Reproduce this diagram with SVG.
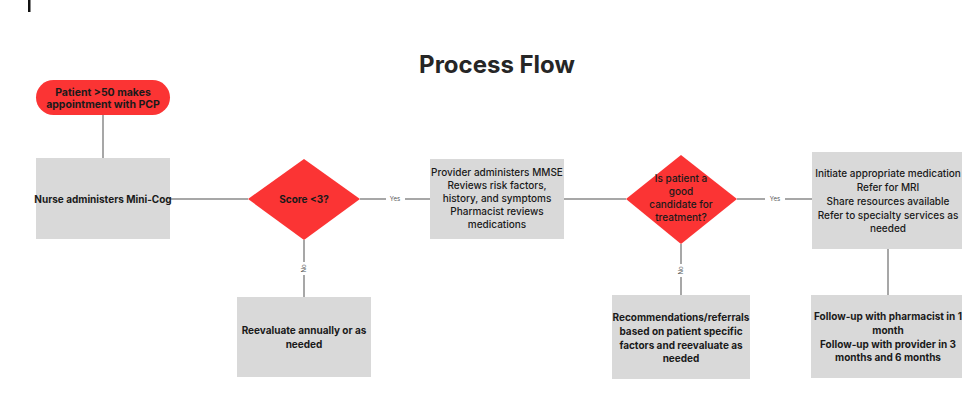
<svg xmlns="http://www.w3.org/2000/svg" width="962" height="393" viewBox="0 0 962 393">
  <style>
    .lbl { font-family: Inter, "Noto Sans", "Liberation Sans", sans-serif; font-size: 10px; font-weight: 700; fill: #1a1a1a; text-anchor: middle; }
    .med { font-weight: 500; }
    .pill { font-size: 10.5px; }
    .tiny { font-family: Inter, "Liberation Sans", sans-serif; font-size: 6px; fill: #555; text-anchor: middle; }
    .box { fill: #d9d9d9; }
    .dec { fill: #fb3434; }
    .wire { stroke: #8a8a8a; stroke-width: 1.5; fill: none; }
    .title { font-family: Inter, "Noto Sans", "Liberation Sans", sans-serif; font-size: 24px; font-weight: 700; fill: #262626; text-anchor: middle; }
  </style>
  <rect width="962" height="393" fill="#ffffff"/>
  <rect x="28" y="0" width="2.5" height="12" fill="#111"/>

  <text class="title" x="497" y="73">Process Flow</text>

  <g id="connectors">
    <path class="wire" d="M103 115 V158"/>
    <path class="wire" d="M170 199 H248"/>
    <path class="wire" d="M360 199 H386 M405 199 H430"/>
    <path class="wire" d="M564 199 H626"/>
    <path class="wire" d="M737 199 H765 M785 199 H812"/>
    <path class="wire" d="M888 249 V295"/>
    <path class="wire" d="M304 240 V262 M304 275 V297"/>
    <path class="wire" d="M681 244 V264 M681 277 V295"/>
    <text class="tiny" x="395" y="201">Yes</text>
    <text class="tiny" x="775" y="201">Yes</text>
    <text class="tiny" transform="translate(306 268.5) rotate(-90)">No</text>
    <text class="tiny" transform="translate(683 270.5) rotate(-90)">No</text>
  </g>

  <g id="start">
    <rect class="dec" x="36" y="80" width="134" height="35" rx="17.5"/>
    <text class="lbl pill" x="103" y="96">Patient &gt;50 makes</text>
    <text class="lbl pill" x="103" y="108">appointment with PCP</text>
  </g>

  <g id="minicog">
    <rect class="box" x="36" y="158" width="134" height="81"/>
    <text class="lbl" x="103" y="203">Nurse administers Mini-Cog</text>
  </g>

  <g id="score">
    <polygon class="dec" points="304,159 360,199 304,240 248,199"/>
    <text class="lbl" x="304" y="203">Score &lt;3?</text>
  </g>

  <g id="provider">
    <rect class="box" x="430" y="159" width="134" height="80"/>
    <text class="lbl med" x="497" y="176">Provider administers MMSE</text>
    <text class="lbl med" x="497" y="189">Reviews risk factors,</text>
    <text class="lbl med" x="497" y="202">history, and symptoms</text>
    <text class="lbl med" x="497" y="215">Pharmacist reviews</text>
    <text class="lbl med" x="497" y="228">medications</text>
  </g>

  <g id="candidate">
    <polygon class="dec" points="681,155 737,199 681,244 626,199"/>
    <text class="lbl med" x="681" y="182">Is patient a</text>
    <text class="lbl med" x="681" y="195">good</text>
    <text class="lbl med" x="681" y="208">candidate for</text>
    <text class="lbl med" x="681" y="221">treatment?</text>
  </g>

  <g id="initiate">
    <rect class="box" x="812" y="152" width="152" height="97"/>
    <text class="lbl med" x="888" y="177">Initiate appropriate medication</text>
    <text class="lbl med" x="888" y="191">Refer for MRI</text>
    <text class="lbl med" x="888" y="205">Share resources available</text>
    <text class="lbl med" x="888" y="219">Refer to specialty services as</text>
    <text class="lbl med" x="888" y="232">needed</text>
  </g>

  <g id="reevaluate">
    <rect class="box" x="237" y="297" width="134" height="80"/>
    <text class="lbl" x="304" y="334">Reevaluate annually or as</text>
    <text class="lbl" x="304" y="348">needed</text>
  </g>

  <g id="referrals">
    <rect class="box" x="612" y="295" width="138" height="84"/>
    <text class="lbl" x="681" y="321">Recommendations/referrals</text>
    <text class="lbl" x="681" y="335">based on patient specific</text>
    <text class="lbl" x="681" y="349">factors and reevaluate as</text>
    <text class="lbl" x="681" y="362">needed</text>
  </g>

  <g id="followup">
    <rect class="box" x="811" y="295" width="153" height="83"/>
    <text class="lbl" x="888" y="320">Follow-up with pharmacist in 1</text>
    <text class="lbl" x="888" y="334">month</text>
    <text class="lbl" x="888" y="348">Follow-up with provider in 3</text>
    <text class="lbl" x="888" y="361">months and 6 months</text>
  </g>
</svg>
